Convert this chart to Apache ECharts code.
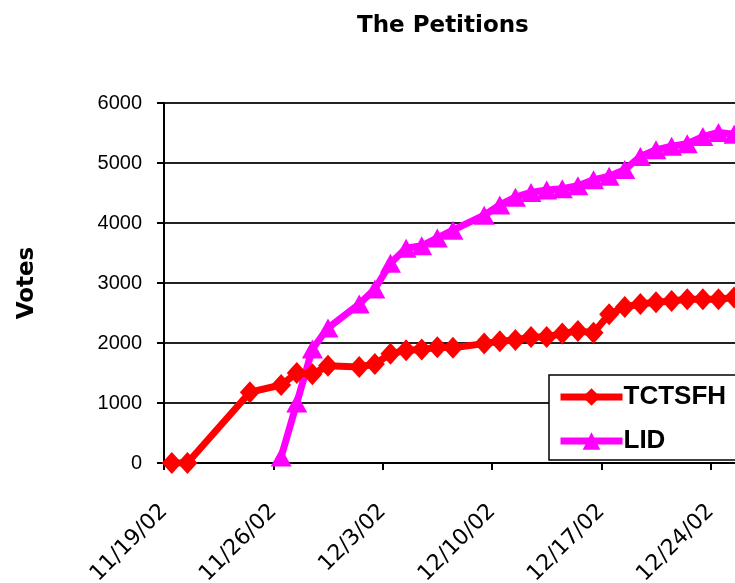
<!DOCTYPE html>
<html>
<head>
<meta charset="utf-8">
<title>The Petitions</title>
<script src="https://cdn.jsdelivr.net/npm/echarts@6/dist/echarts.min.js"></script>
<style>
    html, body { margin: 0; padding: 0; background: #fff; }
    #main { width: 735px; height: 583px; }
</style>
</head>
<body>
<div id="main"></div>
<script>
// days the votes were counted (m/d/yy)
var dates = ['11/19/02', '11/20/02', '11/24/02', '11/26/02', '11/27/02', '11/28/02', '11/29/02',
    '12/1/02', '12/2/02', '12/3/02', '12/4/02', '12/5/02', '12/6/02', '12/7/02',
    '12/9/02', '12/10/02', '12/11/02', '12/12/02', '12/13/02', '12/14/02', '12/15/02', '12/16/02',
    '12/17/02', '12/18/02', '12/19/02', '12/20/02', '12/21/02', '12/22/02', '12/23/02', '12/24/02', '12/25/02'];

var tctsfh = [0, 0, 1180, 1300, 1500, 1480, 1620,
    1600, 1650, 1820, 1880, 1890, 1930, 1920,
    1990, 2030, 2050, 2100, 2100, 2160, 2200, 2170,
    2480, 2600, 2650, 2680, 2700, 2730, 2730, 2730, 2760];

// LID only starts on 11/26
var lid = [null, null, null, 100, 1000, 1900, 2250,
    2650, 2900, 3330, 3580, 3620, 3750, 3880,
    4130, 4300, 4430, 4510, 4550, 4570, 4620, 4720,
    4780, 4890, 5110, 5220, 5280, 5320, 5440, 5510, 5480];

var yTicks = [0, 1000, 2000, 3000, 4000, 5000, 6000];

var DAY = 86400000;
var start = Date.UTC(2002, 10, 19);

// m/d/yy -> days since 11/19/02, point sits in the middle of its day
var dayOf = function (s) {
    var p = s.split('/');
    return (Date.UTC(2000 + (+p[2]), p[0] - 1, +p[1]) - start) / DAY + 0.5;
};

var toPoints = function (vals) {
    var pts = [];
    for (var i = 0; i < dates.length; i++) {
        if (vals[i] !== null) pts.push([dayOf(dates[i]), vals[i]]);
    }
    return pts;
};

var myChart = echarts.init(document.getElementById('main'));

var option = {
    animation: false,
    backgroundColor: '#fff',
    title: {
        text: 'The Petitions',
        left: 352,
        top: 10,
        textStyle: { fontFamily: 'DejaVu Sans', fontWeight: 'bold', fontSize: 23, color: '#000' }
    },
    legend: {
        orient: 'vertical',
        left: 549,
        top: 375,
        padding: [9, 40, 6, 8],
        itemGap: 18,
        itemWidth: 62,
        itemHeight: 22,
        backgroundColor: '#fff',
        borderColor: '#000',
        borderWidth: 1.5,
        borderRadius: 0,
        lineStyle: { width: 7 },
        textStyle: { fontFamily: 'Liberation Sans', fontWeight: 'bold', fontSize: 26, color: '#000', padding: [0, 0, 0, -4] },
        data: ['TCTSFH', 'LID']
    },
    grid: {
        left: 164,
        top: 103,
        width: 656,
        height: 360,
        outerBoundsMode: 'none',
        containLabel: false
    },
    xAxis: {
        type: 'value',
        min: 0,
        max: 42,
        interval: 7,
        axisLine: { lineStyle: { color: '#000', width: 2 } },
        axisTick: { length: 7, lineStyle: { color: '#000', width: 2 } },
        splitLine: { show: false },
        axisLabel: {
            rotate: 45,
            margin: 45,
            fontFamily: 'DejaVu Sans',
            fontSize: 22,
            color: '#000',
            formatter: function (v) {
                var d = new Date(start + v * DAY);
                return (d.getUTCMonth() + 1) + '/' + d.getUTCDate() + '/02';
            }
        }
    },
    yAxis: {
        type: 'value',
        min: yTicks[0],
        max: yTicks[yTicks.length - 1],
        interval: 1000,
        name: 'Votes',
        nameLocation: 'middle',
        nameRotate: 90,
        nameGap: 125,
        nameTextStyle: { fontFamily: 'DejaVu Sans', fontWeight: 'bold', fontSize: 23, color: '#000' },
        axisLine: { show: true, lineStyle: { color: '#000', width: 2 } },
        axisTick: { show: true, length: 7, lineStyle: { color: '#000', width: 2 } },
        splitLine: { lineStyle: { color: '#222', width: 2 } },
        axisLabel: {
            margin: 22,
            fontFamily: 'Liberation Sans',
            fontSize: 20,
            color: '#000',
            formatter: function (v) { return String(v); }
        }
    },
    series: [
        {
            name: 'TCTSFH',
            type: 'line',
            data: toPoints(tctsfh),
            symbol: 'diamond',
            symbolSize: [20, 22],
            color: '#ff0000',
            lineStyle: { width: 7, color: '#ff0000' },
            itemStyle: { color: '#ff0000' },
            z: 3
        },
        {
            name: 'LID',
            type: 'line',
            data: toPoints(lid),
            symbol: 'triangle',
            symbolSize: [21, 19],
            color: '#ff00ff',
            lineStyle: { width: 7, color: '#ff00ff' },
            itemStyle: { color: '#ff00ff' },
            z: 2
        }
    ]
};

myChart.setOption(option);
</script>
</body>
</html>
